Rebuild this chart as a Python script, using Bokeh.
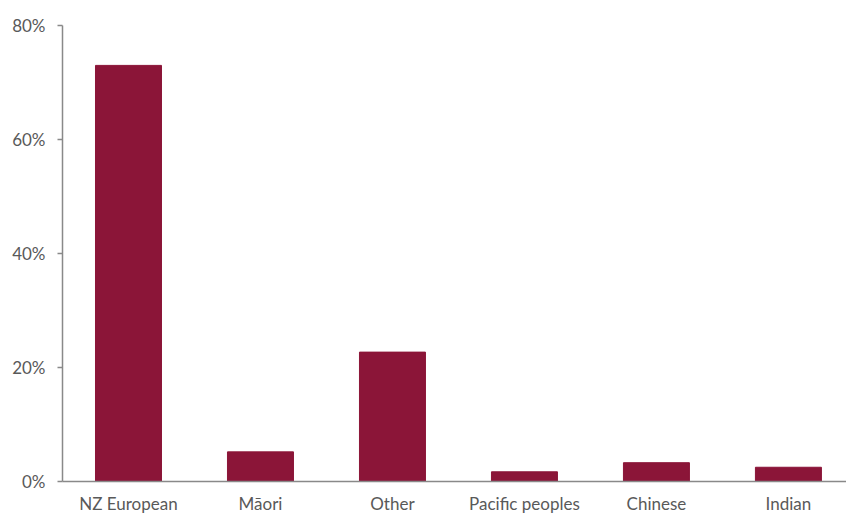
from bokeh.plotting import figure
from bokeh.models import Range1d, FixedTicker, PrintfTickFormatter, ColumnDataSource
from bokeh.embed import file_html
from bokeh.resources import INLINE

categories = ["NZ European", "Māori", "Other", "Pacific peoples", "Chinese", "Indian"]
shares = [73.0, 5.2, 22.7, 1.7, 3.3, 2.5]
y_ticks = [0, 20, 40, 60, 80]

positions = [i + 0.5 for i in range(len(categories))]
src = ColumnDataSource(dict(x=positions, top=shares, cat=categories))

p = figure(width=846, height=516, output_backend="svg", toolbar_location=None,
           x_range=Range1d(0, 5.94), y_range=Range1d(0, 80),
           min_border_left=62, min_border_right=0, min_border_top=25, min_border_bottom=33)
p.outline_line_color = None
p.xgrid.visible = False
p.ygrid.visible = False
p.background_fill_color = "white"
p.border_fill_color = "white"

p.vbar(x="x", top="top", bottom=0, width=0.5, source=src,
       fill_color="#8B1538", line_color="#8B1538")

axis_col = "#898989"
txt_col = "#595959"
font = "Lato"

p.xaxis.ticker = FixedTicker(ticks=positions)
p.xaxis.major_label_overrides = {pos: c for pos, c in zip(positions, categories)}
p.xaxis.major_tick_line_color = None
p.xaxis.minor_tick_line_color = None
p.xaxis.major_tick_out = 0
p.xaxis.major_tick_in = 0
p.xaxis.major_label_standoff = 11
p.xaxis.axis_line_color = axis_col
p.xaxis.axis_line_width = 1.5

p.yaxis.ticker = FixedTicker(ticks=y_ticks)
p.yaxis.formatter = PrintfTickFormatter(format="%d%%")
p.yaxis.minor_tick_line_color = None
p.yaxis.major_tick_out = 5
p.yaxis.major_tick_in = 0
p.yaxis.major_tick_line_color = axis_col
p.yaxis.major_tick_line_width = 1.5
p.yaxis.axis_line_color = axis_col
p.yaxis.axis_line_width = 1.5
p.yaxis.major_label_standoff = 12

for ax in (p.xaxis, p.yaxis):
    ax.major_label_text_font = font
    ax.major_label_text_font_size = "17px"
    ax.major_label_text_color = txt_col

open("out.html", "w").write(file_html(p, INLINE))
